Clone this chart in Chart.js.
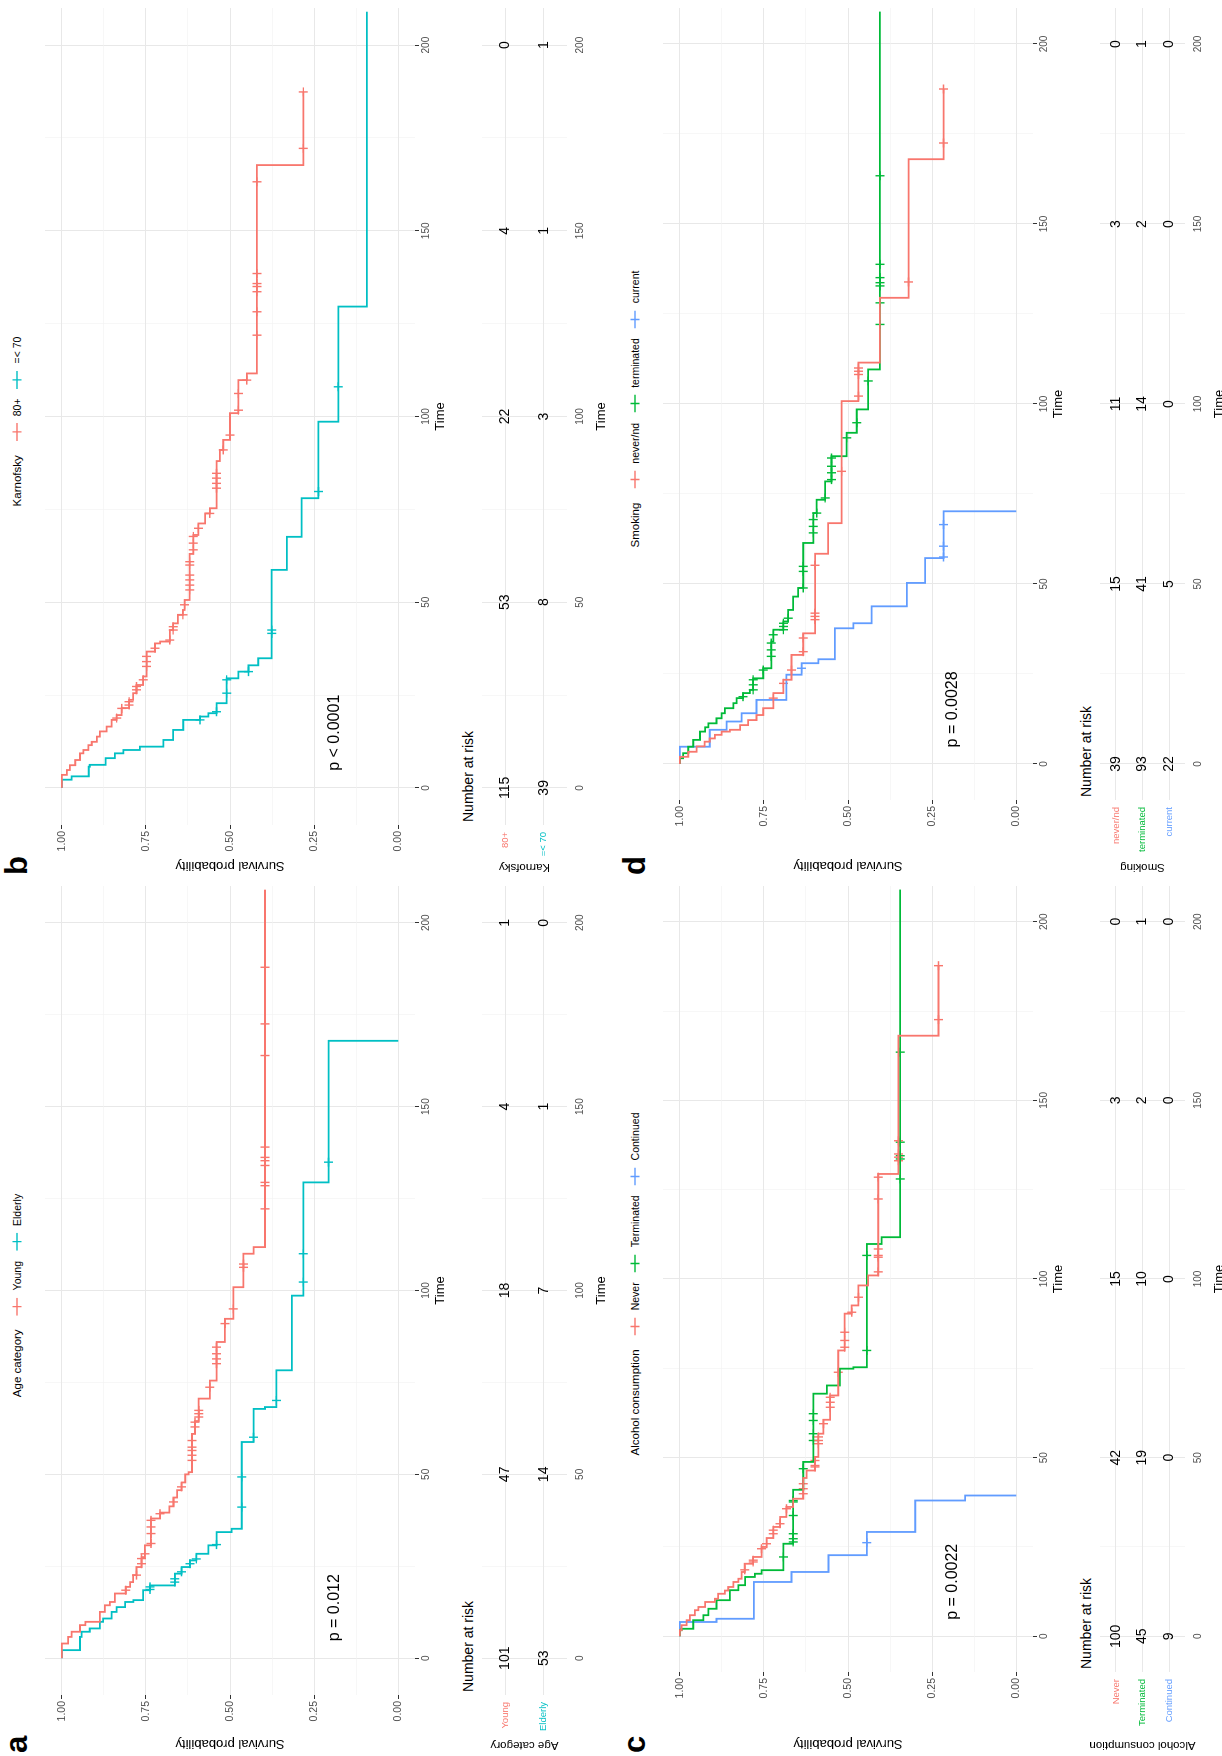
<!DOCTYPE html>
<html>
<head>
<meta charset="utf-8">
<script src="https://cdn.jsdelivr.net/npm/chart.js@4"></script>
<style>
  body { margin: 0; background: #fff; width: 1222px; height: 1756px; overflow: hidden; position: relative; }
  #fig { position: absolute; left: 0; top: 0; width: 1756px; height: 1222px; transform-origin: 0 0;
         transform: translateY(1756px) rotate(-90deg); font-family: "Liberation Sans", Arial, sans-serif; color: #000; }
  #fig canvas { position: absolute; }
  .letter { position: absolute; font-weight: bold; font-size: 31px; line-height: 1; }
  .legend { position: absolute; display: flex; align-items: center; white-space: nowrap; transform: translate(-50%, -50%); }
  .legend .lt { font-size: 11.5px; margin-right: 14px; }
  .legend svg { margin-right: 7px; }
  .legend .li { font-size: 10.5px; margin-right: 10px; }
  .nar { position: absolute; font-size: 14px; transform: translateY(-50%); white-space: nowrap; }
</style>
</head>
<body>
<div id="fig"></div>
<script>
// axis values
const timeTicks = [0, 50, 100, 150, 200];
const timeMinor = [25, 75, 125, 175];
const survTicks = [0, 0.25, 0.5, 0.75, 1];
const survMinor = [0.125, 0.375, 0.625, 0.875];
const riskTimes = [0, 50, 100, 150, 200];

// a - Age category
const ageGroups = ['Young', 'Elderly'];
const youngT = [0, 4, 5.8, 7.2, 9, 9.9, 12.6, 14.4, 15.3, 17.6, 19.4, 20.7, 22.6, 24.8, 27.5, 30.7, 38, 39.6, 41.3, 43.7, 45.7, 47.8, 50, 50.6, 61, 64.5, 70.6, 75.5, 86, 92.3, 100.9, 110, 111.8];
const youngS = [1, .981, .971, .946, .93, .887, .872, .857, .842, .81, .797, .788, .778, .763, .753, .735, .708, .68, .668, .657, .644, .633, .623, .613, .604, .593, .56, .54, .515, .49, .46, .43, .396];
const youngCens = [18.5, 22.6, 25.7, 27.1, 28.4, 31.2, 33.9, 35.7, 37.5, 39.3, 42.5, 46.6, 53.8, 55.2, 56.5, 57.4, 59.2, 62.9, 64.2, 65.6, 66.5, 67.4, 73.7, 80.1, 81.4, 82.8, 84.6, 91, 95, 106.3, 107.2, 122.2, 128.5, 129.4, 134, 135.3, 136.2, 139, 163.9, 172.5, 187.9];
const elderT = [0, 2.2, 5.8, 7.2, 8.1, 9.9, 10.8, 12.6, 13.9, 15.3, 15.8, 18.5, 19.8, 23, 24.8, 26.6, 28.4, 30.7, 34.3, 35.2, 58.8, 67.8, 68.3, 78.3, 98.6, 129.4, 167.9];
const elderS = [1, .946, .941, .917, .887, .877, .852, .837, .812, .787, .758, .738, .664, .644, .619, .6, .564, .54, .495, .465, .43, .396, .362, .316, .282, .207, 0];
const elderCens = [18.7, 19.4, 20.7, 21.6, 23.5, 25.7, 27, 30.9, 41.1, 49.3, 60.1, 70.1, 102.3, 110, 134.9];
const youngRisk = [101, 47, 18, 4, 1];
const elderRisk = [53, 14, 7, 1, 0];

// b - Karnofsky
const karGroups = ['80+', '=< 70'];
const karHiT = [0, 3.5, 4.8, 6.1, 7.5, 9.3, 10.2, 11.5, 12.4, 13.8, 15.2, 16.5, 18.3, 19.6, 21.5, 23.7, 25.5, 27.7, 30, 36.7, 38.9, 39.4, 42.5, 44.3, 46.6, 47.9, 50.6, 63, 68.1, 71.2, 73.9, 75.3, 88, 91, 93.7, 100.9, 109.8, 111.6, 167.7];
const karHiS = [1, .985, .976, .96, .946, .936, .921, .911, .896, .887, .867, .852, .837, .822, .8, .788, .778, .758, .748, .723, .708, .679, .669, .655, .64, .635, .62, .609, .594, .574, .56, .54, .53, .52, .5, .475, .45, .42, .282];
const karHiCens = [18.8, 21.4, 22.3, 23.2, 26.4, 27.3, 29.1, 32.7, 34, 35.4, 37.6, 39.8, 42.5, 43.4, 46.6, 49.3, 53.3, 54.6, 56, 57.3, 60, 60.9, 64.1, 65.9, 67.7, 69.9, 73.9, 80.7, 82, 83.4, 84.7, 91, 95, 101.7, 106.2, 109.8, 121.9, 128.2, 133.6, 135, 135.8, 138.5, 163.2, 172.2, 187.4];
const karLoT = [0, 2.2, 3.1, 5.7, 6.2, 8, 9.3, 10.2, 11.1, 12.9, 15.6, 18.3, 19.2, 20.1, 22.8, 29.5, 31.3, 33, 34.9, 58.7, 67.6, 78, 98.6, 129.6];
const karLoS = [1, .971, .92, .917, .87, .842, .817, .768, .698, .669, .639, .589, .564, .54, .51, .475, .445, .416, .376, .331, .287, .237, .178, .093];
const karLoCens = [18.3, 20.5, 25.5, 29.1, 31.3, 41.6, 42.5, 79.8, 108];
const karHiRisk = [115, 53, 22, 4, 0];
const karLoRisk = [39, 8, 3, 1, 1];

// c - Alcohol consumption
const alcGroups = ['Never', 'Terminated', 'Continued'];
const alcNevT = [0, 1.7, 3.1, 4.5, 5.9, 7.3, 8.2, 9.6, 10.5, 11.9, 12.8, 13.8, 15.2, 16.1, 18, 20.3, 22.2, 25, 27.5, 30.6, 33.4, 36.2, 38.5, 44.3, 46.4, 50.2, 56.7, 60.6, 67.4, 80, 90.3, 92.6, 98.2, 101, 129.4, 168.1];
const alcNevS = [1, .995, .98, .97, .955, .945, .925, .896, .886, .866, .856, .841, .826, .816, .807, .782, .757, .742, .722, .702, .683, .663, .633, .623, .598, .588, .573, .553, .529, .51, .489, .469, .44, .41, .35, .231];
const alcNevCens = [18.6, 20.8, 21.3, 24.5, 25.9, 28.7, 29.7, 31.5, 35.7, 39.9, 41.3, 42.7, 47.4, 47.8, 49.2, 53.9, 54.8, 55.8, 59.5, 64.1, 65.5, 66.9, 73.9, 80.9, 82.8, 85.1, 90.7, 94.9, 102, 106.1, 106.6, 108.4, 122.4, 128.5, 133.1, 134.1, 135, 138.7, 172.6, 187.7];
const alcTerT = [0, 1.7, 2.1, 4.5, 5.9, 7.7, 10.1, 12.9, 14.3, 16.6, 17.5, 18.5, 25.9, 41, 48.8, 67.9, 70.2, 74.9, 75.3, 109.8, 111.7];
const alcTerS = [1, .995, .96, .93, .915, .891, .851, .826, .806, .777, .757, .692, .663, .633, .603, .563, .524, .484, .444, .4, .345];
const alcTerCens = [22.2, 26.4, 27.3, 28.7, 33.8, 37.6, 38, 46.9, 54.8, 56.7, 60.4, 62.3, 80, 106.6, 128, 133.6, 134.5, 138.3, 163.5];
const alcConT = [0, 4, 4.9, 15.2, 18, 22.7, 29.2, 38, 39.4];
const alcConS = [1, .891, .78, .668, .558, .444, .3, .152, 0];
const alcConCens = [26.2];
const alcNevRisk = [100, 42, 15, 3, 0];
const alcTerRisk = [45, 19, 10, 2, 1];
const alcConRisk = [9, 0, 0, 0, 0];

// d - Smoking
const smkGroups = ['never/nd', 'terminated', 'current'];
const smkNevT = [0, 2, 3.4, 4.9, 6.2, 7.1, 8.1, 9, 9.5, 10.8, 12.2, 13.6, 15.5, 19.7, 23.4, 30.3, 36.3, 58.4, 66.9, 100.8, 111.5, 129.5, 168];
const smkNevS = [1, .975, .95, .926, .911, .896, .876, .851, .821, .797, .772, .752, .722, .692, .668, .633, .598, .559, .519, .469, .405, .32, .216];
const smkNevCens = [18.3, 22.4, 26.1, 31.2, 35, 40.1, 41, 41.9, 55.2, 81.3, 102.2, 108.2, 109.1, 110, 133.9, 172.5, 187.5];
const smkTerT = [0, 1.6, 3, 4.8, 6.7, 9, 10.2, 11.3, 12.7, 14.1, 15.5, 16.9, 18.3, 19.7, 20.6, 23.8, 26.6, 34, 37.3, 39.6, 42.8, 46.5, 48.9, 61.4, 69.7, 73.4, 78.5, 85.5, 92, 98.5, 109.6];
const smkTerS = [1, .99, .975, .96, .94, .925, .915, .891, .876, .866, .841, .831, .812, .792, .782, .752, .728, .722, .692, .678, .663, .648, .633, .603, .593, .568, .549, .504, .474, .44, .405];
const smkTerCens = [18.7, 20.6, 22, 23.4, 26.1, 29.9, 31.7, 33.6, 35.9, 37.3, 38.2, 39.1, 40.5, 48.9, 53.5, 54.9, 64.2, 66, 67.9, 69.7, 73.9, 79, 80.9, 82.7, 85, 90.6, 94.8, 106.4, 122.1, 128.1, 132.8, 133.7, 135.1, 138.8, 163.4];
const smkCurT = [0, 4.8, 9.5, 11.8, 14.1, 17.8, 24.8, 28, 29.1, 37.7, 39.1, 43.8, 50.3, 57.2, 70.2];
const smkCurS = [1, .911, .861, .816, .772, .683, .638, .588, .539, .484, .43, .325, .271, .216, 0];
const smkCurCens = [26.6, 57.5, 60.5, 66.5];
const smkNevRisk = [39, 15, 11, 3, 0];
const smkTerRisk = [93, 41, 14, 2, 1];
const smkCurRisk = [22, 5, 0, 0, 0];

const RED = '#F8766D', CYAN = '#00BFC4', GREEN = '#00BA38', BLUE = '#619CFF';
const FONT = '"Liberation Sans", Arial, sans-serif';
const T_MIN = -10, T_MAX = 210, RIGHT = 870;

Chart.defaults.font.family = FONT;

const panels = [
  { letter: 'a', ox: 0, oy: 0, left: 61, title: 'Age category', groups: ageGroups, colors: [RED, CYAN],
    curves: [[youngT, youngS, 209, youngCens], [elderT, elderS, 167.9, elderCens]],
    risk: [youngRisk, elderRisk], pval: 'p = 0.012' },
  { letter: 'b', ox: 878, oy: 0, left: 53, title: 'Karnofsky', groups: karGroups, colors: [RED, CYAN],
    curves: [[karHiT, karHiS, 187.4, karHiCens], [karLoT, karLoS, 209, karLoCens]],
    risk: [karHiRisk, karLoRisk], pval: 'p < 0.0001' },
  { letter: 'c', ox: 0, oy: 618, left: 84, title: 'Alcohol consumption', groups: alcGroups, colors: [RED, GREEN, BLUE],
    curves: [[alcNevT, alcNevS, 187.7, alcNevCens], [alcTerT, alcTerS, 209, alcTerCens], [alcConT, alcConS, 39.4, alcConCens]],
    risk: [alcNevRisk, alcTerRisk, alcConRisk], pval: 'p = 0.0022' },
  { letter: 'd', ox: 878, oy: 618, left: 78, title: 'Smoking', groups: smkGroups, colors: [RED, GREEN, BLUE],
    curves: [[smkNevT, smkNevS, 187.5, smkNevCens], [smkTerT, smkTerS, 209, smkTerCens], [smkCurT, smkCurS, 70.2, smkCurCens]],
    risk: [smkNevRisk, smkTerRisk, smkCurRisk], pval: 'p = 0.0028' }
];

function stepValue(times, surv, t) {
  let v = surv[0];
  for (let i = 0; i < times.length; i++) if (times[i] <= t) v = surv[i];
  return v;
}

const isMajorT = v => timeTicks.includes(v);
const isMajorS = v => survTicks.some(s => Math.abs(s - v) < 1e-9);
const timeGrid = timeTicks.concat(timeMinor).sort((a, b) => a - b);
const survGrid = survTicks.concat(survMinor).sort((a, b) => a - b);

// p-value text, placed through the scales
const pvalPlugin = {
  id: 'pval',
  afterDatasetsDraw(chart, args, opts) {
    const ctx = chart.ctx;
    ctx.save();
    ctx.font = '16px ' + FONT;
    ctx.fillStyle = '#000';
    ctx.textAlign = 'left';
    ctx.textBaseline = 'middle';
    ctx.fillText(opts.text, chart.scales.x.getPixelForValue(opts.t), chart.scales.y.getPixelForValue(opts.s));
    ctx.restore();
  }
};

// numbers at risk, drawn on the points of the risk datasets
const riskPlugin = {
  id: 'riskNumbers',
  afterDatasetsDraw(chart) {
    const ctx = chart.ctx;
    ctx.save();
    ctx.font = '14px ' + FONT;
    ctx.fillStyle = '#000';
    ctx.textAlign = 'center';
    ctx.textBaseline = 'middle';
    chart.data.datasets.forEach((ds, i) => {
      chart.getDatasetMeta(i).data.forEach((pt, j) => ctx.fillText(String(ds.counts[j]), pt.x, pt.y));
    });
    ctx.restore();
  }
};

function timeAxis(height, withTicks, pad, title) {
  return {
    type: 'linear', min: T_MIN, max: T_MAX, bounds: 'data',
    afterBuildTicks: s => { s.ticks = timeGrid.map(v => ({ value: v })); },
    afterFit: s => { s.height = height; },
    ticks: { callback: v => isMajorT(v) ? String(v) : '', font: { size: 10 }, color: '#4d4d4d',
             padding: pad, maxRotation: 0, autoSkip: false },
    grid: {
      color: c => isMajorT(c.tick.value) ? '#e8e8e8' : '#f2f2f2',
      lineWidth: c => isMajorT(c.tick.value) ? 1 : 0.6,
      drawTicks: withTicks, tickLength: 4, tickWidth: 1,
      tickColor: c => isMajorT(c.tick.value) ? '#333' : 'rgba(0,0,0,0)'
    },
    border: { display: false },
    title: title
  };
}

function buildPanel(p) {
  const fig = document.getElementById('fig');

  const letter = document.createElement('div');
  letter.className = 'letter';
  letter.textContent = p.letter;
  letter.style.left = (p.ox + 3) + 'px';
  letter.style.top = (p.oy + 1) + 'px';
  fig.appendChild(letter);

  // legend
  const leg = document.createElement('div');
  leg.className = 'legend';
  leg.style.left = (p.ox + (p.left + RIGHT) / 2) + 'px';
  leg.style.top = (p.oy + 17) + 'px';
  let html = '<span class="lt">' + p.title + '</span>';
  p.groups.forEach((g, i) => {
    const col = p.colors[i];
    html += '<svg width="18" height="12"><line x1="0" y1="6" x2="18" y2="6" stroke="' + col + '" stroke-width="1.4"/>' +
            '<line x1="9" y1="1.5" x2="9" y2="10.5" stroke="' + col + '" stroke-width="1.4"/></svg>' +
            '<span class="li">' + g + '</span>';
  });
  leg.innerHTML = html;
  fig.appendChild(leg);

  // survival curves
  const datasets = [];
  p.curves.forEach((cv, i) => {
    const [T, S, end] = cv;
    const pts = T.map((t, j) => ({ x: t, y: S[j] }));
    if (end > T[T.length - 1]) pts.push({ x: end, y: S[S.length - 1] });
    datasets.push({ data: pts, borderColor: p.colors[i], borderWidth: 1.8, pointRadius: 0, stepped: true, fill: false });
  });
  p.curves.forEach((cv, i) => {
    const [T, S, , cens] = cv;
    datasets.push({
      data: cens.map(t => ({ x: t, y: stepValue(T, S, t) })),
      showLine: false, pointStyle: 'cross', pointRadius: 4.5, pointBorderWidth: 1.4,
      pointBorderColor: p.colors[i], pointBackgroundColor: p.colors[i]
    });
  });

  const c1 = document.createElement('canvas');
  c1.width = 878; c1.height = 425;
  c1.style.left = p.ox + 'px';
  c1.style.top = (p.oy + 30) + 'px';
  fig.appendChild(c1);

  new Chart(c1, {
    type: 'line',
    data: { datasets: datasets },
    plugins: [pvalPlugin],
    options: {
      responsive: false, animation: false, events: [],
      layout: { padding: { top: 15, right: 878 - RIGHT, left: 0, bottom: 0 } },
      plugins: { legend: { display: false }, tooltip: { enabled: false },
                 pval: { text: p.pval, t: 4.6, s: 0.19 } },
      scales: {
        x: timeAxis(40, true, 1, { display: true, text: 'Time', font: { size: 13 }, color: '#000', padding: { top: 0, bottom: 7 } }),
        y: {
          type: 'linear', min: -0.05, max: 1.05, bounds: 'data',
          afterBuildTicks: s => { s.ticks = survGrid.map(v => ({ value: v })); },
          afterFit: s => { s.width = p.left; },
          ticks: { callback: v => isMajorS(v) ? v.toFixed(2) : '', font: { size: 10.5 }, color: '#4d4d4d', padding: 2, autoSkip: false },
          grid: {
            color: c => isMajorS(c.tick.value) ? '#e8e8e8' : '#f2f2f2',
            lineWidth: c => isMajorS(c.tick.value) ? 1 : 0.6,
            tickLength: 4, tickWidth: 1,
            tickColor: c => isMajorS(c.tick.value) ? '#333' : 'rgba(0,0,0,0)'
          },
          border: { display: false },
          title: { display: true, text: 'Survival probability', font: { size: 13 }, color: '#000', padding: { top: 5, bottom: 0 } }
        }
      }
    }
  });

  // risk table
  const nar = document.createElement('div');
  nar.className = 'nar';
  nar.textContent = 'Number at risk';
  nar.style.left = (p.ox + p.left + 3) + 'px';
  nar.style.top = (p.oy + 468) + 'px';
  fig.appendChild(nar);

  const n = p.groups.length;
  const riskSets = p.risk.map((counts, i) => ({
    data: riskTimes.map(t => ({ x: t, y: i + 1 })),
    counts: counts, pointRadius: 0, showLine: false
  }));

  const c2 = document.createElement('canvas');
  c2.width = 878; c2.height = 156;
  c2.style.left = p.ox + 'px';
  c2.style.top = (p.oy + 455) + 'px';
  fig.appendChild(c2);

  new Chart(c2, {
    type: 'line',
    data: { datasets: riskSets },
    plugins: [riskPlugin],
    options: {
      responsive: false, animation: false, events: [],
      layout: { padding: { top: 27, right: 878 - RIGHT, left: 0, bottom: 0 } },
      plugins: { legend: { display: false }, tooltip: { enabled: false } },
      scales: {
        x: timeAxis(44, false, 7, { display: true, text: 'Time', font: { size: 13 }, color: '#000', padding: { top: 0, bottom: 2 } }),
        y: {
          type: 'linear', min: 0.4, max: n + 0.6, reverse: true, bounds: 'data',
          afterBuildTicks: s => { s.ticks = p.groups.map((g, i) => ({ value: i + 1 })); },
          afterFit: s => { s.width = p.left; },
          ticks: { callback: v => p.groups[v - 1], color: c => p.colors[c.index], font: { size: 9.5 }, padding: 7, autoSkip: false },
          grid: { color: '#e8e8e8', drawTicks: false },
          border: { display: false },
          title: { display: true, text: p.title, font: { size: 11.5 }, color: '#000', padding: { top: 4, bottom: 0 } }
        }
      }
    }
  });
}

panels.forEach(buildPanel);
</script>
</body>
</html>
